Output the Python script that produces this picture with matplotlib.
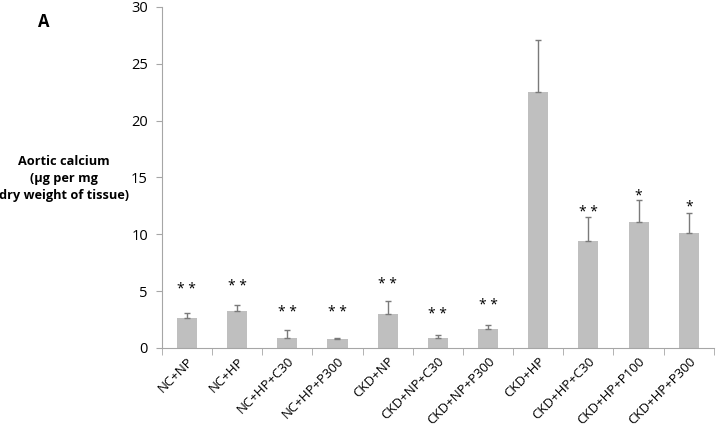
import matplotlib as mpl
from matplotlib import pyplot as plt
import numpy as np

mpl.rcParams['font.family'] = ['Open Sans', 'DejaVu Sans']

groups = ['NC+NP', 'NC+HP', 'NC+HP+C30', 'NC+HP+P300', 'CKD+NP', 'CKD+NP+C30',
          'CKD+NP+P300', 'CKD+HP', 'CKD+HP+C30', 'CKD+HP+P100', 'CKD+HP+P300']
means = [2.6, 3.2, 0.9, 0.8, 3.0, 0.9, 1.7, 22.5, 9.4, 11.1, 10.1]
errs = [0.5, 0.6, 0.7, 0.1, 1.1, 0.2, 0.3, 4.6, 2.1, 1.9, 1.8]
stars = ['**', '**', '**', '**', '**', '**', '**', '', '**', '*', '*']
star_y = [5.1, 5.4, 3.1, 3.1, 5.6, 2.9, 3.7, None, 11.9, 13.4, 12.4]

grey = '#a6a6a6'

fig = plt.figure(figsize=(7.16, 4.30), dpi=100)
ax = fig.add_axes([0.226, 0.191, 0.771, 0.793])

x = np.arange(len(groups))
ax.bar(x, means, width=0.4, color='#bfbfbf', zorder=2)
ax.errorbar(x, means, yerr=[np.zeros(len(errs)), errs], fmt='none',
            ecolor='#7a7a7a', elinewidth=1.0, capsize=2.5, capthick=1.0, zorder=3)

for xi, s, sy in zip(x, stars, star_y):
    if s:
        ax.text(xi, sy, ' '.join(s), ha='center', va='center', fontsize=10)

ax.set_xlim(-0.5, len(groups) - 0.5)
ax.set_ylim(0, 30)
ax.set_yticks([0, 5, 10, 15, 20, 25, 30])
ax.tick_params(axis='y', labelsize=10.5, color=grey, length=4, pad=6)
ax.set_xticks(x)
ax.set_xticklabels(groups, rotation=45, ha='right', rotation_mode='anchor',
                   fontsize=9.5)
ax.tick_params(axis='x', length=0, pad=5)
ax.set_xticks(np.arange(-0.5, len(groups), 1), minor=True)
ax.tick_params(axis='x', which='minor', length=5, color=grey)

for side in ['top', 'right']:
    ax.spines[side].set_visible(False)
ax.spines['left'].set_color(grey)
ax.spines['bottom'].set_color(grey)

fig.text(0.089, 0.586, 'Aortic calcium\n(µg per mg\ndry weight of tissue)',
         ha='center', va='center', fontsize=9.2, fontweight='bold',
         linespacing=1.4)
fig.text(0.061, 0.948, 'A', ha='center', va='center', fontsize=12,
         fontweight='bold')

fig.savefig('out.png', dpi=100)
